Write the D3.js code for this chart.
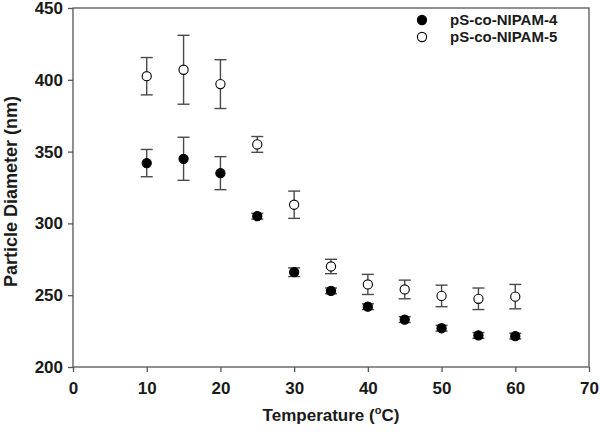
<!DOCTYPE html>
<html>
<head>
<meta charset="utf-8">
<script src="https://cdn.jsdelivr.net/npm/d3@7"></script>
<style>
  body { margin: 0; background: #fff; }
  text { font-family: "Liberation Sans", Arial, sans-serif; font-weight: bold; fill: #1a1a1a; }
</style>
</head>
<body>
<div id="chart"></div>
<script>
// temperatures (°C)
const temps = [10, 15, 20, 25, 30, 35, 40, 45, 50, 55, 60];
// pS-co-NIPAM-4 (filled)
const nipam4 = [342, 345, 335, 305, 266, 253, 242, 233, 227, 222, 221.5];
const nipam4Err = [9.5, 15, 11.5, 2, 3, 2, 2, 2, 2, 2, 2];
// pS-co-NIPAM-5 (open)
const nipam5 = [402.5, 407, 397, 355, 313, 270, 257.5, 254, 249.5, 247.5, 249];
const nipam5Err = [13, 24, 17, 5.5, 9.5, 5, 7, 6.5, 7.5, 7.5, 8.5];

const xTicks = [0, 10, 20, 30, 40, 50, 60, 70];
const yTicks = [200, 250, 300, 350, 400, 450];

const width = 600, height = 436;
const margin = { top: 8, right: 11, bottom: 69, left: 73 };

const svg = d3.select('#chart')
  .append('svg')
  .attr('width', width)
  .attr('height', height);

const x = d3.scaleLinear().domain([0, 70]).range([margin.left, width - margin.right]);
const y = d3.scaleLinear().domain([200, 450]).range([height - margin.bottom, margin.top]);

const axisColor = '#555';

// frame
svg.append('rect')
  .attr('x', x(0)).attr('y', y(450))
  .attr('width', x(70) - x(0)).attr('height', y(200) - y(450))
  .attr('fill', 'none').attr('stroke', axisColor).attr('stroke-width', 1.3);

const xAxis = svg.append('g')
  .attr('transform', `translate(0,${y(200)})`)
  .call(d3.axisBottom(x).tickValues(xTicks).tickSize(5).tickPadding(10).tickFormat(d3.format('d')));
const yAxis = svg.append('g')
  .attr('transform', `translate(${x(0)},0)`)
  .call(d3.axisLeft(y).tickValues(yTicks).tickSize(5).tickPadding(5).tickFormat(d3.format('d')));

[xAxis, yAxis].forEach(g => {
  g.select('.domain').remove();
  g.selectAll('line').attr('stroke', axisColor).attr('stroke-width', 1.3);
  g.selectAll('text').style('font-size', '17px').style('font-weight', 'bold').attr('fill', '#1a1a1a');
});

// axis titles
const xt = svg.append('text')
  .attr('x', (x(0) + x(70)) / 2)
  .attr('y', 421)
  .attr('text-anchor', 'middle')
  .style('font-size', '17px');
xt.append('tspan').text('Temperature (');
xt.append('tspan').attr('dy', -7).style('font-size', '11px').text('o');
xt.append('tspan').attr('dy', 7).text('C)');

svg.append('text')
  .attr('transform', `translate(17,${(y(200) + y(450)) / 2 + 4}) rotate(-90)`)
  .attr('text-anchor', 'middle')
  .style('font-size', '18px')
  .text('Particle Diameter (nm)');

const series = [
  { name: 'pS-co-NIPAM-4', vals: nipam4, errs: nipam4Err, fill: '#000' },
  { name: 'pS-co-NIPAM-5', vals: nipam5, errs: nipam5Err, fill: '#fff' }
];

const capW = 6;
series.forEach(s => {
  const g = svg.append('g');
  const pts = temps.map((t, i) => ({ t, v: s.vals[i], e: s.errs[i] }));
  const eb = g.selectAll('g.err').data(pts).join('g')
    .attr('stroke', '#4a4a4a').attr('stroke-width', 1.4);
  eb.append('line')
    .attr('x1', d => x(d.t)).attr('x2', d => x(d.t))
    .attr('y1', d => y(d.v - d.e)).attr('y2', d => y(d.v + d.e));
  eb.append('line')
    .attr('x1', d => x(d.t) - capW).attr('x2', d => x(d.t) + capW)
    .attr('y1', d => y(d.v + d.e)).attr('y2', d => y(d.v + d.e));
  eb.append('line')
    .attr('x1', d => x(d.t) - capW).attr('x2', d => x(d.t) + capW)
    .attr('y1', d => y(d.v - d.e)).attr('y2', d => y(d.v - d.e));
  g.selectAll('circle').data(pts).join('circle')
    .attr('cx', d => x(d.t)).attr('cy', d => y(d.v))
    .attr('r', 4.6)
    .attr('fill', s.fill).attr('stroke', '#000').attr('stroke-width', 1.1);
});

// legend
const legend = svg.append('g');
series.forEach((s, i) => {
  const ly = 20 + i * 17;
  legend.append('circle')
    .attr('cx', 422).attr('cy', ly).attr('r', 4.6)
    .attr('fill', s.fill).attr('stroke', '#000').attr('stroke-width', 1.1);
  legend.append('text')
    .attr('x', 450).attr('y', ly + 5)
    .style('font-size', '15px')
    .text(s.name);
});
</script>
</body>
</html>
